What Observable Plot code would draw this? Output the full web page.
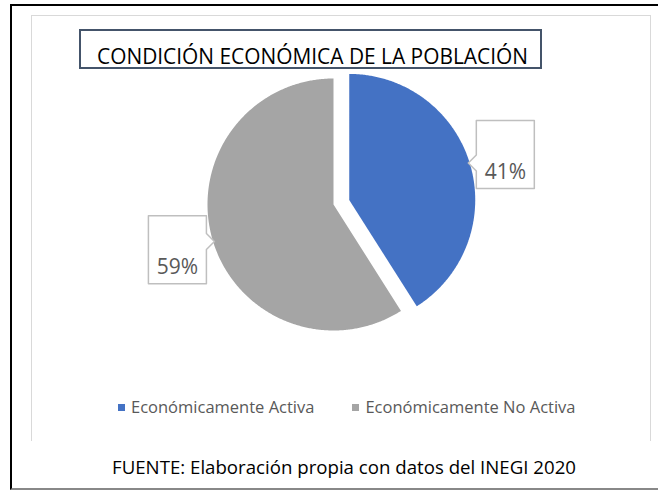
<!DOCTYPE html>
<html><head><meta charset="utf-8">
<script src="https://cdn.jsdelivr.net/npm/d3@7"></script>
<script src="https://cdn.jsdelivr.net/npm/@observablehq/plot@0.6"></script>
<style>
body{margin:0;background:#fff;font-family:"Open Sans",sans-serif}
#wrap{position:relative;width:658px;height:491px;overflow:hidden;background:#fff}
#outer{position:absolute;left:10px;top:4px;width:700px;height:482px;border-left:2px solid #000;border-top:2px solid #000;border-bottom:2px solid #888}
#inner{position:absolute;left:31px;top:15px;width:618px;height:425px;border:1px solid #d9d9d9;border-bottom:none}
#tbox{position:absolute;left:79px;top:29px;width:459px;height:36px;border:2px solid #44546A}
.txt{position:absolute;white-space:nowrap;line-height:1;transform-origin:0 0}
#title{left:97px;top:46px;font-size:21px;color:#000}
#foot{left:112px;top:458px;font-size:18px;color:#000}
#chart{position:absolute;left:0;top:0}
#leg{position:absolute;left:118px;top:399px}
.lg-swatches-wrap{min-height:0 !important;margin:0 !important}
.lg-swatch{margin-right:38px !important}
.lg-swatch > svg{margin-right:6px !important}
</style></head><body>
<div id="wrap">
  <div id="outer"></div>
  <div id="inner"></div>
  <div id="chart"></div>
  <div id="tbox"></div>
  <div class="txt" id="title">CONDICIÓN ECONÓMICA DE LA POBLACIÓN</div>
  <div id="leg"></div>
  <div class="txt" id="foot">FUENTE: Elaboración propia con datos del INEGI 2020</div>
</div>
<script>
const categories = ["Económicamente Activa", "Económicamente No Activa"];
const values = [41, 59];
const labels = ["41%", "59%"];
const colors = ["#4472C4", "#A5A5A5"];
const explode = [0.13, 0];

const PX = 126; // pixels per unit radius
const pie = d3.pie().sort(null).value(d => d)(values);

const slices = pie.map((p, i) => {
  const mid = (p.startAngle + p.endAngle) / 2;
  const ox = explode[i] * Math.sin(mid), oy = -explode[i] * Math.cos(mid);
  const pts = [{x: ox, y: oy}];
  const n = Math.ceil((p.endAngle - p.startAngle) / (Math.PI / 360));
  for (let k = 0; k <= n; k++) {
    const a = p.startAngle + (p.endAngle - p.startAngle) * k / n;
    pts.push({x: ox + Math.sin(a), y: oy - Math.cos(a)});
  }
  pts.push({x: ox, y: oy});
  return {pts, ox, oy, mid};
});

const hw = 29, hh = 34, nh = 8, ne = 8;
const labelData = [];
const callouts = slices.map((s, i) => {
  const lx = s.ox + 1.29 * Math.sin(s.mid), ly = s.oy - 1.29 * Math.cos(s.mid);
  labelData.push({x: lx, y: ly, text: labels[i]});
  const vx = s.ox - lx, vy = s.oy - ly;
  const ty = (vy / Math.abs(vx)) * hw;
  let rel;
  if (vx < 0) {
    rel = [[-hw,-hh],[hw,-hh],[hw,hh],[-hw,hh],[-hw,ty+nh],[-hw-ne,ty],[-hw,ty-nh],[-hw,-hh]];
  } else {
    rel = [[-hw,-hh],[hw,-hh],[hw,ty-nh],[hw+ne,ty],[hw,ty+nh],[hw,hh],[-hw,hh],[-hw,-hh]];
  }
  return rel.map(([dx, dy]) => ({x: lx + dx / PX, y: ly + dy / PX}));
});

const chart = Plot.plot({
  width: 658, height: 491, margin: 0,
  style: {background: "transparent", overflow: "visible"},
  x: {domain: [-1, 1], range: [207, 459], axis: null},
  y: {domain: [-1, 1], range: [78, 330], axis: null},
  marks: [
    ...slices.map((s, i) => Plot.line(s.pts, {x: "x", y: "y", fill: colors[i], stroke: "none"})),
    ...callouts.map(c => Plot.line(c, {x: "x", y: "y", fill: "white", stroke: "#BFBFBF", strokeWidth: 1.5})),
    Plot.text(labelData, {x: "x", y: "y", text: "text", dy: 24, lineAnchor: "bottom", textAnchor: "middle",
      fontSize: 21, fill: "#595959", fontFamily: "Open Sans"})
  ]
});
document.getElementById("chart").append(chart);

const legend = Plot.legend({
  color: {type: "ordinal", domain: categories, range: colors},
  legend: "swatches", swatchSize: 7, className: "lg",
  style: {fontFamily: "Open Sans", fontSize: "16.5px", color: "#595959", lineHeight: "1"}
});
document.getElementById("leg").append(legend);

function fit(id, w) {
  const el = document.getElementById(id);
  const r = el.getBoundingClientRect().width;
  el.style.transform = `scaleX(${w / r})`;
}
fit("title", 431);
fit("foot", 464);
</script>
</body></html>
